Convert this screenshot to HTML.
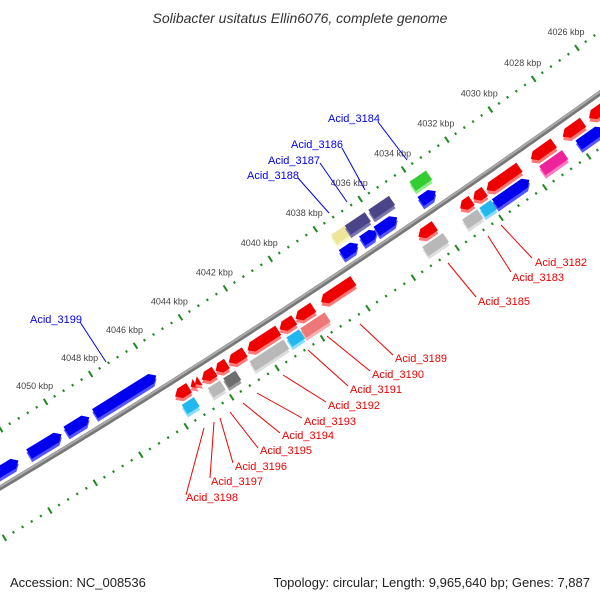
<!DOCTYPE html>
<html><head><meta charset="utf-8"><style>
html,body{margin:0;padding:0;background:#fff;}
svg{display:block;font-family:"Liberation Sans",sans-serif;}
</style></head><body>
<svg id="map" width="600" height="600" viewBox="0 0 600 600">
<text x="300" y="23" text-anchor="middle" font-size="14" font-style="italic" fill="#333">Solibacter usitatus Ellin6076, complete genome</text>
<g id="ticks"></g>
<g id="backbone"></g>
<g id="genes"></g>
<g id="labels"></g>
<text x="10" y="587" font-size="13" fill="#222">Accession: NC_008536</text>
<text x="590" y="587" font-size="13" fill="#222" text-anchor="end">Topology: circular; Length: 9,965,640 bp; Genes: 7,887</text>
</svg>
<script>
// ---- data ----
const tickLabels = [4026,4028,4030,4032,4034,4036,4038,4040,4042,4044,4046,4048,4050];
const geneCenters = [4052.59,4050.85,4049.41,4047.29,4037.35,4036.48,4035.7,4033.8,
  4037.25,4036.58,4035.5,4033.7,
  4045.45,4044.97,4044.78,4044.30,4043.72,4043.04,4041.88,4040.82,4040.05,4038.60,4034.6,4032.8,4032.2,4031.1,4029.3,4027.9,4026.7,
  4045.45,4044.30,4043.62,4041.98,4040.82,4039.95,4034.6,4032.9,4032.2,4031.1,4029.2,4027.5];
const geneLengths = [1.11,1.45,1.03,2.76,0.74,0.68,0.95,0.7,
  0.81,0.92,0.95,0.76,
  0.63,0.22,0.22,0.58,0.51,0.73,1.4,0.67,0.81,1.48,0.76,0.53,0.53,1.53,1.07,0.95,0.95,
  0.55,0.55,0.55,1.54,0.58,1.11,0.95,0.7,0.53,1.6,1.07,1.15];
const geneTracks = [1,1,1,1,1,1,1,1, 2,2,2,2,
  -1,-1,-1,-1,-1,-1,-1,-1,-1,-1,-1,-1,-1,-1,-1,-1,-1,
  -2,-2,-2,-2,-2,-2,-2,-2,-2,-2,-2,-2];
const geneKinds = ['fwd','fwd','fwd','fwd','fwd','fwd','fwd','fwd',
  'yellow','purple','purple','green',
  'rev','tri','tri','rev','rev','rev','rev','rev','rev','rev','rev','rev','rev','rev','rev','rev','rev',
  'cyan','gray','dgray','gray','cyan','salmon','gray','gray','cyan','fwd','magenta','fwd'];

// ---- geometry ----
const P0=[0,488],P1=[300,308],P2=[600,93];
function bez(t){const a=(1-t)*(1-t),b=2*(1-t)*t,c=t*t;return [a*P0[0]+b*P1[0]+c*P2[0],a*P0[1]+b*P1[1]+c*P2[1]];}
function tan(t){const dx=2*(1-t)*(P1[0]-P0[0])+2*t*(P2[0]-P1[0]);const dy=2*(1-t)*(P1[1]-P0[1])+2*t*(P2[1]-P1[1]);const l=Math.hypot(dx,dy);return [dx/l,dy/l];}
function kt(k){const cx=k<=4036?519-(k-4030)*21.8:388.2-(k-4036)*22.6;return cx/600;}
function pos(k,off){const t=kt(k),b=bez(t),d=tan(t);return {x:b[0]+off*d[1],y:b[1]-off*d[0],ang:Math.atan2(d[1],d[0])*180/Math.PI};}
const NS='http://www.w3.org/2000/svg';
function mk(tag,attrs,parent){const e=document.createElementNS(NS,tag);for(const k in attrs)e.setAttribute(k,attrs[k]);parent.appendChild(e);return e;}
const PXK=26.2;
const trackOff={1:14,2:31,'-1':-14,'-2':-30};

// backbone
const bb=document.getElementById('backbone');
let pts=[];for(let t=-0.06;t<=1.06;t+=0.01){const b=bez(t);pts.push(b[0].toFixed(1)+','+b[1].toFixed(1));}
const bl=mk('polyline',{points:pts.join(' '),fill:'none',stroke:'#777','stroke-width':5},bb);


const bl2=mk('polyline',{points:pts.join(' '),fill:'none',stroke:'#aaa','stroke-width':2,transform:'translate(-0.5,-1)'},bb);



// ticks
const tg=document.getElementById('ticks');
for(const off of [50,-45]){
  for(let k=4024;k<=4056.01;k+=0.4){
    const kk=Math.round(k*10)/10;
    const major=Math.abs(kk/2-Math.round(kk/2))<0.01;
    const p=pos(kk,off);
    if(p.x<-10||p.x>610||p.y<-10||p.y>610)continue;
    const r=mk('rect',major?{x:-1,y:-3.5,width:2,height:7,fill:'#1e8a1e'}:{x:-1,y:-1.2,width:2,height:2.4,fill:'#1e8a1e'},tg);
    r.setAttribute('transform',`translate(${p.x.toFixed(1)},${p.y.toFixed(1)}) rotate(${p.ang.toFixed(1)})`);
    
    
  }
}
tickLabels.forEach(k=>{
  const p=pos(k,50);
  const tx=mk('text',{x:(p.x-11).toFixed(1),y:(p.y-13).toFixed(1),'text-anchor':'middle','font-size':9,fill:'#444'},tg);
  tx.textContent=k+' kbp';
  
  
});

// genes
const colors={fwd:['#0000ee','#5555ff'],rev:['#ee0000','#ff7777'],tri:['#ee0000','#ff7777'],
  yellow:['#ece59a','#f8f3c8'],purple:['#4a4488','#7a75b0'],green:['#33cc33','#88ee88'],
  cyan:['#22b8ee','#88ddff'],gray:['#b8b8b8','#dddddd'],dgray:['#6e6e6e','#999'],salmon:['#ee7777','#f7b0b0'],magenta:['#ee2299','#ff77c0']};
const gg=document.getElementById('genes');
geneCenters.forEach((k,i)=>{
  const p=pos(k,trackOff[geneTracks[i]]);
  const L=geneLengths[i]*PXK,h=11,kind=geneKinds[i],c=colors[kind];
  const g=mk('g',{transform:`translate(${p.x.toFixed(1)},${p.y.toFixed(1)}) rotate(${p.ang.toFixed(1)})`},gg);
  
  
  const a=L/2,hh=h/2,hd=Math.min(6,L*0.4);
  let poly;
  if(kind==='fwd')poly=`${-a},${-hh} ${a-hd},${-hh} ${a},0 ${a-hd},${hh} ${-a},${hh}`;
  else if(kind==='rev')poly=`${a},${-hh} ${-a+hd},${-hh} ${-a},0 ${-a+hd},${hh} ${a},${hh}`;
  else if(kind==='tri')poly=`${a},${-hh} ${-a},0 ${a},${hh}`;
  else poly=`${-a},${-hh} ${a},${-hh} ${a},${hh} ${-a},${hh}`;
  mk('polygon',{points:poly,fill:c[1],transform:'translate(-1.5,3)'},g);
  mk('polygon',{points:poly,fill:c[0]},g);
});

// labels
const lg=document.getElementById('labels');
const labelNames=['Acid_3182','Acid_3183','Acid_3185','Acid_3189','Acid_3190','Acid_3191','Acid_3192','Acid_3193','Acid_3194','Acid_3195','Acid_3196','Acid_3197','Acid_3198',
  'Acid_3184','Acid_3186','Acid_3187','Acid_3188','Acid_3199'];
const labelColor=['r','r','r','r','r','r','r','r','r','r','r','r','r','b','b','b','b','b'];
const labelPos=[[535,266],[512,281],[478,305],[395,362],[372,378],[350,393],[328,409],[304,425],[282,439],[260,454],[235,470],[211,485],[186,501],
  [328,122],[291,148],[268,164],[247,179],[30,323]];
const leaderLines=[[532,258,501,225],[511,272,488,236],[476,297,448,263],[393,355,360,324],[370,371,327,336],[348,386,308,350],[326,402,283,375],[302,418,257,393],[280,433,243,403],[258,448,230,412],[233,463,220,418],[210,478,214,422],[186,495,204,428],
  [378,122,407,160],[342,148,365,190],[320,163,347,202],[298,178,329,213],[80,322,106,362]];
labelNames.forEach((n,i)=>{
  const col=labelColor[i]==='r'?'#ee0000':'#0000ee';
  const l=leaderLines[i];
  const ln=mk('line',{x1:l[0],y1:l[1],x2:l[2],y2:l[3],stroke:col,'stroke-width':1},lg);
  
  
  const t=mk('text',{x:labelPos[i][0],y:labelPos[i][1],'font-size':11,fill:col},lg);
  t.textContent=n;
  
  
});
</script>
</body></html>
